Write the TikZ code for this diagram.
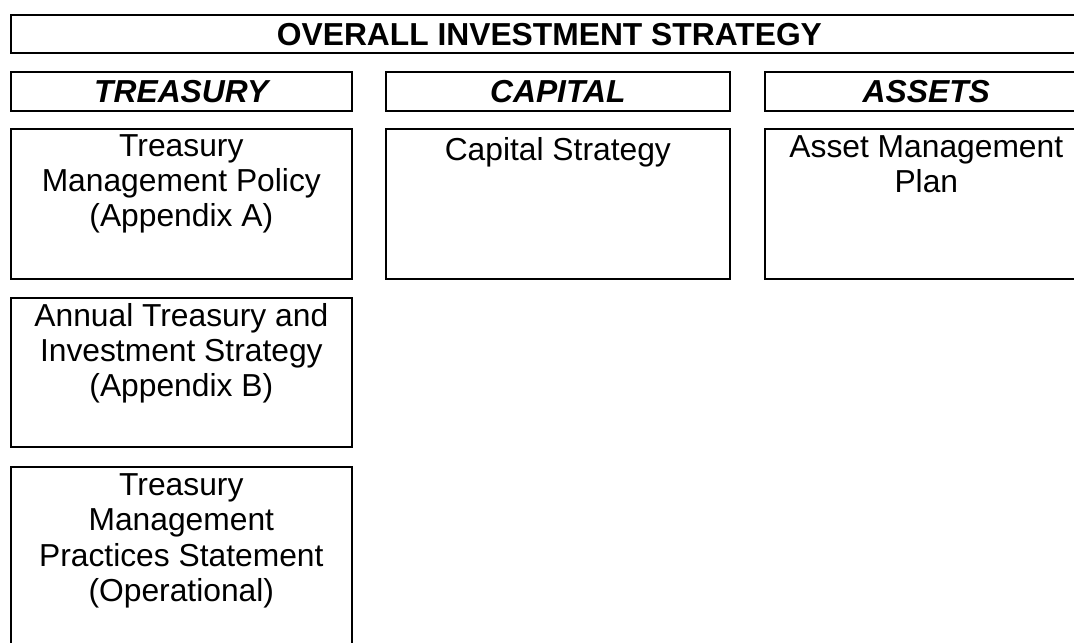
\documentclass[tikz,border=0pt]{standalone}
\usepackage{fontspec}
\setmainfont{Liberation Sans}
\begin{document}
\begin{tikzpicture}[x=0.025cm, y=-0.025cm, % one unit is one pixel of the page
	line width=1.1pt,
	box/.style={draw, rectangle, inner sep=0pt, anchor=north west},
	hdr/.style={box, font=\fontsize{22.6}{25}\selectfont\bfseries\itshape,
		text height=16.2pt, text depth=0pt, minimum height=0.975cm},
	txt/.style={font=\fontsize{22.6}{25}\selectfont, align=center, anchor=north, inner sep=0pt}]
	\useasboundingbox (0,0) rectangle (1074,643);
	\clip (0,0) rectangle (1074,643);
	% top banner
	\node[hdr, font=\fontsize{22.6}{25}\selectfont\bfseries, minimum width=26.925cm, minimum height=0.95cm]
		(overall) at (10,14) {OVERALL INVESTMENT STRATEGY};
	% column heads
	\node[hdr, minimum width=8.525cm] (treasury) at (10,71)  {TREASURY};
	\node[hdr, minimum width=8.6cm]   (capital)  at (385,71) {CAPITAL};
	\node[hdr, minimum width=8.075cm] (assets)   at (764,71) {ASSETS};
	% document boxes
	\node[box, minimum width=8.525cm, minimum height=3.75cm]  (tmpol)  at (10,128)  {};
	\node[box, minimum width=8.6cm,   minimum height=3.75cm]  (capstr) at (385,128) {};
	\node[box, minimum width=8.075cm, minimum height=3.75cm]  (amplan) at (764,128) {};
	\node[box, minimum width=8.525cm, minimum height=3.725cm] (tis)    at (10,297)  {};
	\node[box, minimum width=8.525cm, minimum height=5cm]     (tmps)   at (10,466)  {};
	% texts, top line set just under each box top
	\node[txt] (tmpolTxt)  at ([yshift=-0.14cm]tmpol.north)  {Treasury\\Management Policy\\(Appendix A)};
	\node[txt] (capstrTxt) at ([yshift=-0.22cm]capstr.north) {Capital Strategy};
	\node[txt] (amplanTxt) at ([yshift=-0.18cm]amplan.north) {Asset Management\\Plan};
	\node[txt] (tisTxt)    at ([yshift=-0.14cm]tis.north)    {Annual Treasury and\\Investment Strategy\\(Appendix B)};
	\node[txt] (tmpsTxt)   at ([yshift=-0.18cm]tmps.north)   {Treasury\\Management\\Practices Statement\\(Operational)};
\end{tikzpicture}
\end{document}
